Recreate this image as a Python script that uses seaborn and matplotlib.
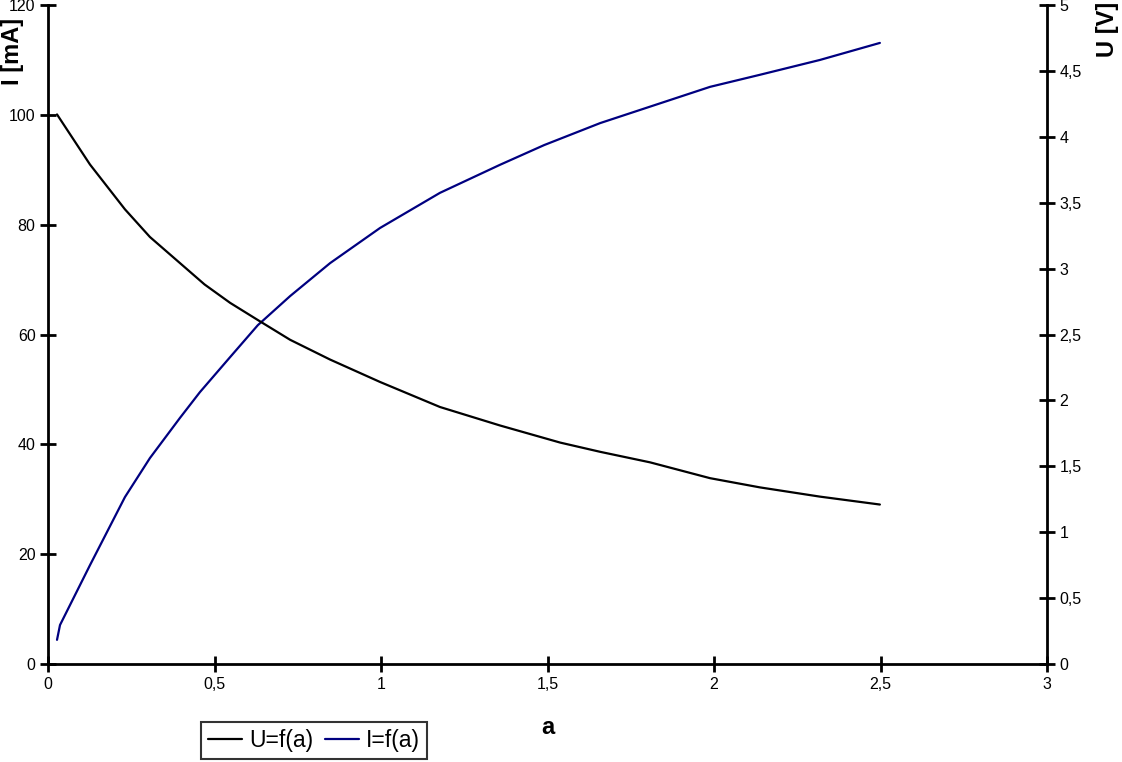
import numpy as np
import pandas as pd
import matplotlib
matplotlib.use("Agg")
import matplotlib.pyplot as plt
import seaborn as sns

# Data
a_u = [0.027, 0.126, 0.231, 0.306, 0.47, 0.547, 0.63, 0.727, 0.847, 0.997,
       1.177, 1.357, 1.538, 1.658, 1.808, 1.988, 2.138, 2.318, 2.498]
u_vals = [4.17, 3.79, 3.45, 3.24, 2.88, 2.74, 2.61, 2.46, 2.31, 2.14,
          1.95, 1.81, 1.68, 1.61, 1.53, 1.41, 1.34, 1.27, 1.21]

a_i = [0.027, 0.036, 0.126, 0.231, 0.306, 0.396, 0.456, 0.547, 0.63, 0.727,
       0.847, 0.997, 1.177, 1.357, 1.49, 1.658, 1.808, 1.988, 2.138, 2.318, 2.498]
i_vals = [4.4, 7.1, 18.0, 30.4, 37.5, 44.8, 49.5, 55.9, 61.7, 67.0,
          73.0, 79.4, 85.8, 90.9, 94.5, 98.5, 101.5, 105.1, 107.3, 110.0, 113.1]

x_ticks = [0, 0.5, 1, 1.5, 2, 2.5, 3]
x_labels = ["0", "0,5", "1", "1,5", "2", "2,5", "3"]
i_ticks = [0, 20, 40, 60, 80, 100, 120]
u_ticks = [0, 0.5, 1, 1.5, 2, 2.5, 3, 3.5, 4, 4.5, 5]
u_labels = ["0", "0,5", "1", "1,5", "2", "2,5", "3", "3,5", "4", "4,5", "5"]

df_u = pd.DataFrame({"a": a_u, "U": u_vals})
df_i = pd.DataFrame({"a": a_i, "I": i_vals})

sns.set_style("ticks")
plt.rcParams["font.family"] = ["Liberation Sans", "DejaVu Sans"]
plt.rcParams["text.color"] = "black"

fig = plt.figure(figsize=(11.22, 7.62), dpi=100)
ax = fig.add_axes([0.0428, 0.1286, 0.8904, 0.8648])
ax2 = ax.twinx()

sns.lineplot(data=df_i, x="a", y="I", ax=ax, color="#000080", linewidth=1.6,
             sort=False, label="I=f(a)", legend=False)
sns.lineplot(data=df_u, x="a", y="U", ax=ax2, color="black", linewidth=1.6,
             sort=False, label="U=f(a)", legend=False)

ax.set_xlim(0, 3)
ax.set_ylim(0, 120)
ax2.set_ylim(0, 5)
ax.set_xticks(x_ticks)
ax.set_xticklabels(x_labels)
ax.set_yticks(i_ticks)
ax2.set_yticks(u_ticks)
ax2.set_yticklabels(u_labels)

for a_ in (ax, ax2):
    a_.spines["top"].set_visible(False)
    for s in a_.spines.values():
        s.set_linewidth(2)
        s.set_color("black")
    a_.tick_params(direction="inout", length=12, width=2, labelsize=11.5,
                   colors="black", labelcolor="black", pad=3)
ax.spines["right"].set_visible(False)
ax2.spines["left"].set_visible(False)
ax2.spines["bottom"].set_visible(False)

ax.set_xlabel("")
ax.set_ylabel("")
ax2.set_ylabel("")

fig.text(0.488, 0.045, "a", fontsize=17, fontweight="bold", ha="center", va="center")
fig.text(0.001, 0.976, "I [mA]", fontsize=17, fontweight="bold", rotation=90,
         ha="left", va="top")
fig.text(0.977, 0.998, "U [V]", fontsize=17, fontweight="bold", rotation=90,
         ha="left", va="top")

handles = [ax2.lines[0], ax.lines[0]]
leg = fig.legend(handles, ["U=f(a)", "I=f(a)"], loc="lower left",
                 bbox_to_anchor=(0.176, 0.0), ncol=2, fontsize=16.5,
                 frameon=True, fancybox=False, handlelength=1.5,
                 handletextpad=0.3, columnspacing=0.5, borderpad=0.3,
                 borderaxespad=0.15)
leg.get_frame().set_edgecolor("black")
leg.get_frame().set_linewidth(1.5)

fig.savefig("out.png", dpi=100)
